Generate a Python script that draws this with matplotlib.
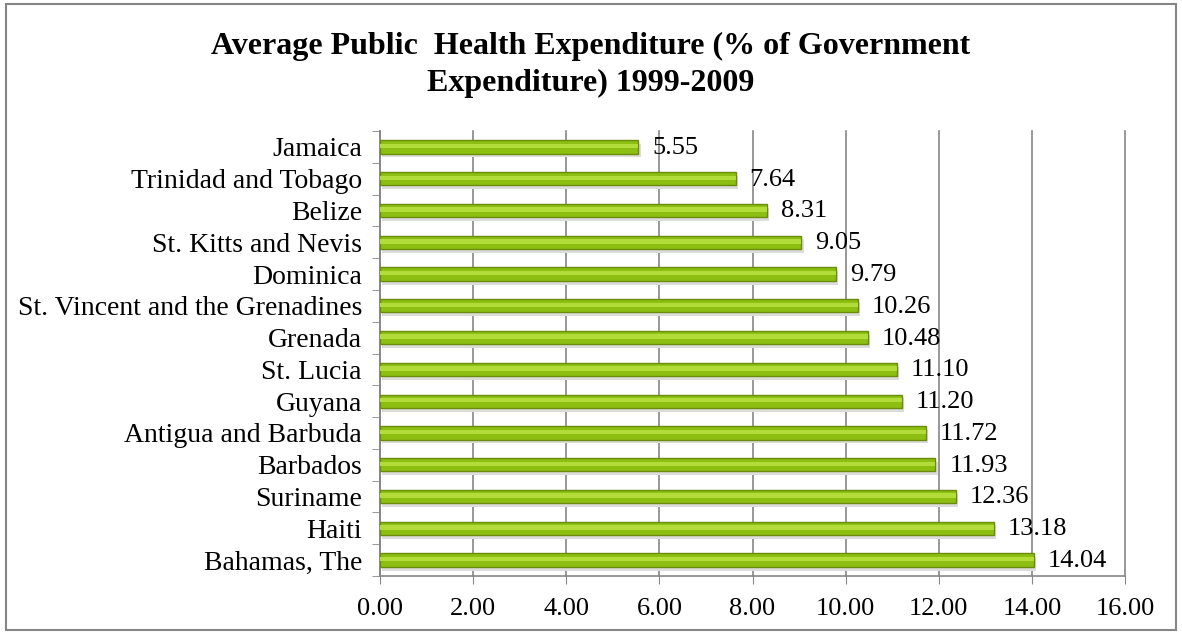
import numpy as np
import matplotlib.pyplot as plt
from matplotlib.patches import Rectangle

countries = ['Jamaica', 'Trinidad and Tobago', 'Belize', 'St. Kitts and Nevis', 'Dominica',
             'St. Vincent and the Grenadines', 'Grenada', 'St. Lucia', 'Guyana',
             'Antigua and Barbuda', 'Barbados', 'Suriname', 'Haiti', 'Bahamas, The']
values = [5.55, 7.64, 8.31, 9.05, 9.79, 10.26, 10.48, 11.10, 11.20, 11.72, 11.93, 12.36, 13.18, 14.04]
xticks = [0, 2, 4, 6, 8, 10, 12, 14, 16]

plt.rcParams['font.family'] = ['Liberation Serif', 'DejaVu Serif']

fig = plt.figure(figsize=(11.82, 6.34), dpi=100)
ax = fig.add_axes([380 / 1182, 1 - 576 / 634, (1125 - 380) / 1182, (576 - 131) / 634])

y = np.arange(len(countries))
# soft shadow under each bar
ax.barh(y + 0.12, values, height=0.42, color='#dcdcdc', left=0.05, zorder=2)
ax.barh(y, values, height=0.42, color='#8cbf12', edgecolor='#6b8c0a', linewidth=1.0, zorder=3)
ax.barh(y - 0.03, values, height=0.14, color='#b2dc3a', linewidth=0, zorder=4)

for yi, v in zip(y, values):
    ax.text(v + 0.3, yi + 0.03, f'{v:.2f}', va='center', ha='left', fontsize=19, zorder=5)

ax.set_xlim(0, 16)
ax.set_ylim(len(countries) - 0.5, -0.5)
ax.set_xticks(xticks)
ax.set_xticklabels([f'{t:.2f}' for t in xticks], fontsize=19)
ax.set_yticks(y)
ax.set_yticklabels(countries, fontsize=20)
ax.set_yticks(np.arange(len(countries) + 1) - 0.5, minor=True)
ax.tick_params(axis='y', which='major', length=0, pad=13)
ax.tick_params(axis='y', which='minor', length=6, color='#868686', direction='out')
ax.tick_params(axis='x', length=6, color='#868686', pad=10)
ax.grid(axis='x', color='#868686', linewidth=1.2, zorder=0)
for gl in ax.get_xgridlines():
    gl.set_clip_on(False)
ax.set_axisbelow(True)
for s in ['top', 'right']:
    ax.spines[s].set_visible(False)
for s in ['left', 'bottom']:
    ax.spines[s].set_color('#868686')
    ax.spines[s].set_linewidth(1.2)

fig.text(0.5, 1 - 65 / 634, 'Average Public  Health Expenditure (% of Government\nExpenditure) 1999-2009',
         ha='center', va='center', fontsize=23, fontweight='bold', linespacing=1.35)

fig.patches.append(Rectangle((6 / 1182, 4 / 634), 1170 / 1182, 626 / 634, transform=fig.transFigure,
                             fill=False, edgecolor='#868686', linewidth=1.5))

fig.savefig('out.png', dpi=100)
